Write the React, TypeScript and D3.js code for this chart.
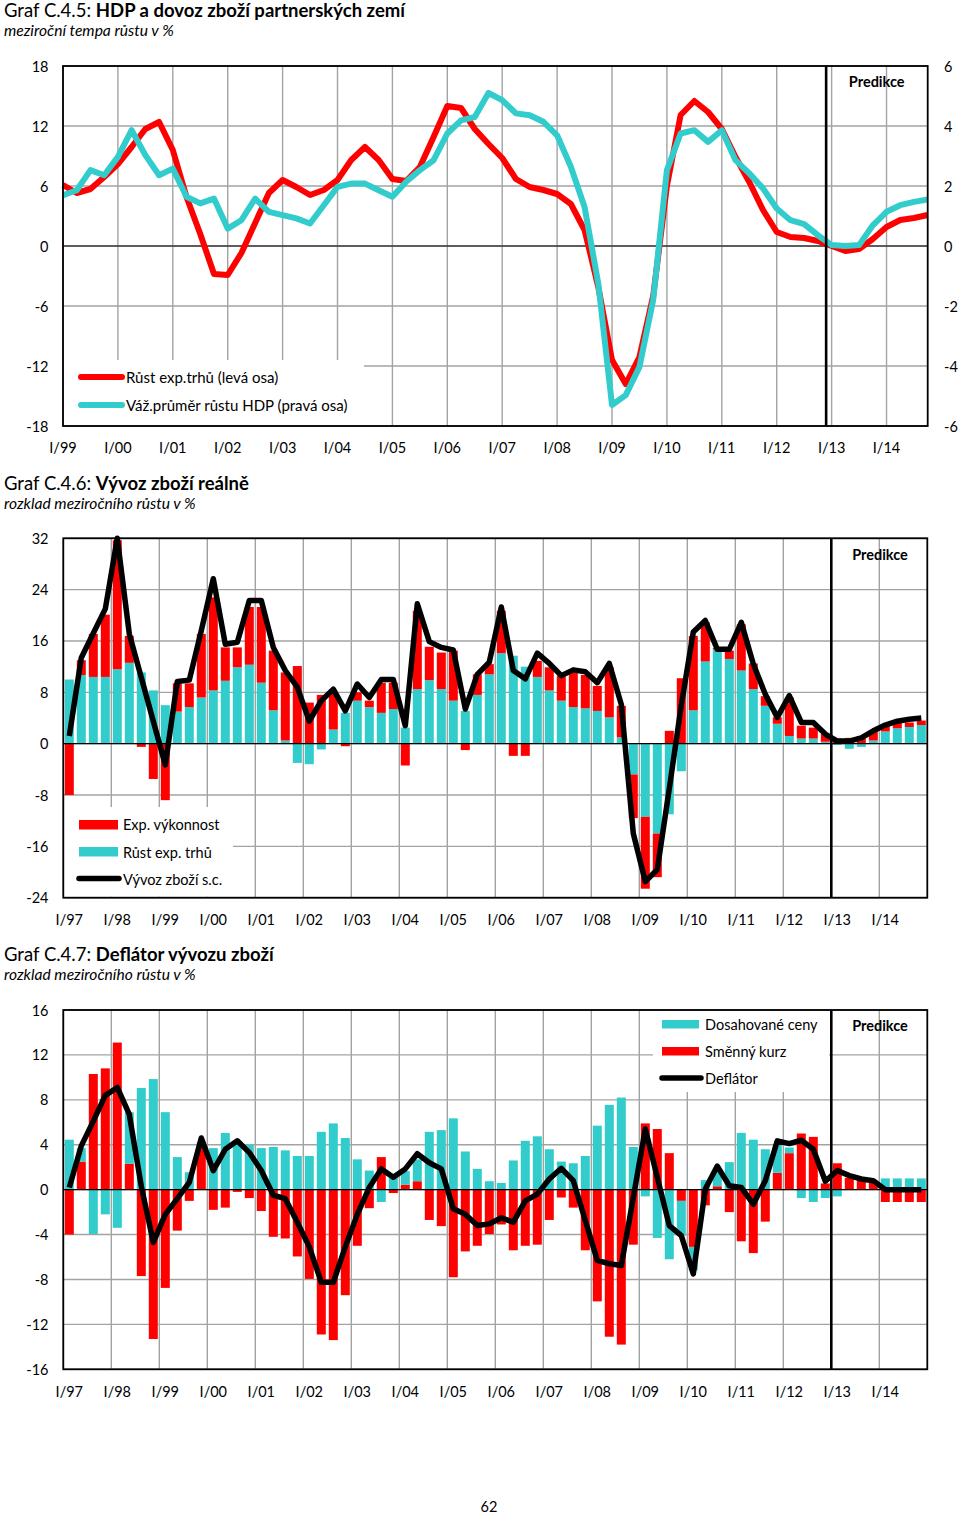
import React from "react";
import * as d3 from "d3";

const FONT = "Lato, 'Open Sans', sans-serif";
const RED = "#ff0000";
const TEAL = "#33cccc";
const GRID = "#a3a3a3";

// ---------- Graf C.4.5 ----------
const quarters99 = d3.range(1999, 2015).flatMap((y) => [1, 2, 3, 4].map((q) => `${y}Q${q}`));
const yearLabels99 = ["I/99", "I/00", "I/01", "I/02", "I/03", "I/04", "I/05", "I/06", "I/07", "I/08", "I/09", "I/10", "I/11", "I/12", "I/13", "I/14"];
const leftTicks1 = [-18, -12, -6, 0, 6, 12, 18];
const rightTicks1 = [-6, -4, -2, 0, 2, 4, 6];
// Růst exp.trhů (levá osa)
const exportMarketGrowth = [
  6.1, 5.3, 5.7, 6.9, 8.2, 9.9, 11.7, 12.4, 9.6, 4.9,
  1.2, -2.8, -2.9, -0.7, 2.3, 5.3, 6.6, 5.9, 5.1, 5.6,
  6.6, 8.6, 9.9, 8.6, 6.7, 6.5, 7.9, 10.9, 14.0, 13.8,
  11.7, 10.2, 8.8, 6.7, 5.9, 5.6, 5.2, 4.2, 1.6, -4.1,
  -11.4, -13.8, -11.1, -5.0, 6.0, 13.1, 14.5, 13.4, 11.7, 8.9,
  6.4, 3.6, 1.4, 0.9, 0.8, 0.5, 0.0, -0.5, -0.3, 0.7,
  1.9, 2.6, 2.8, 3.1,
];
// Váž.průměr růstu HDP (pravá osa)
const weightedGdpGrowth = [
  1.69, 1.86, 2.53, 2.36, 2.97, 3.86, 3.03, 2.36, 2.58, 1.64,
  1.42, 1.58, 0.58, 0.86, 1.58, 1.14, 1.03, 0.92, 0.75, 1.36,
  1.97, 2.08, 2.08, 1.86, 1.64, 2.14, 2.53, 2.86, 3.75, 4.19,
  4.3, 5.1, 4.86, 4.42, 4.36, 4.14, 3.69, 2.64, 1.3, -1.25,
  -5.3, -4.97, -4.03, -1.8, 2.53, 3.75, 3.86, 3.47, 3.86, 2.86,
  2.42, 1.92, 1.25, 0.86, 0.73, 0.36, 0.03, 0.0, 0.03, 0.69,
  1.14, 1.36, 1.47, 1.55,
];

// ---------- Graf C.4.6 / C.4.7 ----------
const quarters97 = d3.range(1997, 2015).flatMap((y) => [1, 2, 3, 4].map((q) => `${y}Q${q}`));
const yearLabels97 = ["I/97", "I/98", "I/99", "I/00", "I/01", "I/02", "I/03", "I/04", "I/05", "I/06", "I/07", "I/08", "I/09", "I/10", "I/11", "I/12", "I/13", "I/14"];
const ticks2 = [-24, -16, -8, 0, 8, 16, 24, 32];
const ticks3 = [-16, -12, -8, -4, 0, 4, 8, 12, 16];

// Růst exp. trhů (contribution)
const marketContrib = [
  10, 10.7, 10.4, 10.4, 11.6, 12.6, 11.1, 8.3, 6.0, 5.0,
  5.7, 7.2, 8.3, 9.8, 11.9, 12.3, 9.5, 5.2, 0.5, -3.0,
  -3.2, -0.9, 2.2, 4.8, 6.7, 5.7, 4.8, 5.4, 2.5, 8.5,
  9.9, 8.5, 6.7, 5.1, 7.6, 10.8, 14.1, 13.7, 12.0, 10.4,
  8.3, 6.7, 5.7, 5.5, 5.1, 4.1, 1.0, -4.8, -11.4, -14.0,
  -11.0, -4.3, 5.2, 12.8, 14.7, 13.2, 11.4, 8.5, 5.9, 3.1,
  1.2, 0.8, 0.8, 0.3, -0.2, -0.8, -0.5, 0.5, 1.9, 2.4,
  2.6, 2.9,
];
// Exp. výkonnost (contribution)
const performanceContrib = [
  -8.0, 2.3, 6.7, 9.7, 20.1, 4.2, -0.5, -5.5, -8.8, 4.4,
  3.7, 9.9, 14.5, 5.2, 3.1, 9.0, 11.8, 9.3, 10.6, 12.1,
  6.4, 7.6, 5.8, -0.4, 1.3, 1.0, 4.7, 4.1, -3.4, 12.2,
  5.2, 5.7, 7.8, -1.0, 3.2, 1.6, 6.6, -1.9, -1.9, 2.5,
  3.6, 3.9, 5.4, 5.2, 3.9, 7.8, 4.9, -6.8, -11.2, -6.8,
  2.0, 10.2, 11.6, 6.1, 0.2, 1.3, 7.2, 4.0, 1.5, 1.0,
  6.0, 2.0, 1.7, 1.2, 0.8, 0.9, 1.2, 1.5, 0.9, 0.9,
  0.7, 0.7,
];
// Vývoz zboží s.c.
const goodsExports = [
  1.2, 13.4, 17.2, 21.0, 32.0, 17.1, 10.3, 3.5, -3.3, 9.7,
  9.9, 17.6, 25.7, 15.5, 15.8, 22.3, 22.3, 15.0, 11.4, 8.8,
  3.5, 6.7, 8.5, 5.1, 9.3, 7.2, 10.0, 10.0, 2.8, 21.8,
  15.9, 15.0, 14.6, 5.4, 10.8, 12.7, 21.3, 11.4, 10.1, 14.1,
  12.5, 10.6, 11.5, 11.2, 9.5, 12.5, 6.1, -14.0, -21.5, -19.6,
  -7.0, 6.0, 17.4, 19.2, 14.7, 14.7, 18.9, 12.4, 7.7, 4.1,
  7.5, 3.3, 3.3, 1.5, 0.4, 0.4, 0.9, 2.0, 2.9, 3.5,
  3.8, 4.0,
];

// Dosahované ceny
const achievedPrices = [
  4.45, 1.2, -3.95, -2.2, -3.4, 4.6, 9.05, 9.85, 6.9, 2.9,
  1.55, 0.4, 3.7, 5.05, 4.05, 4.0, 3.7, 3.8, 3.5, 3.0,
  3.0, 5.15, 5.9, 4.6, 2.7, 1.7, -1.1, 1.25, 1.2, 1.95,
  5.15, 5.3, 6.35, 3.4, 1.85, 0.75, 0.6, 2.6, 4.35, 4.75,
  3.6, 2.5, 2.35, 3.0, 5.7, 7.55, 8.2, 3.8, -0.6, -4.3,
  -6.2, -3.1, -2.1, 0.85, 1.5, 2.45, 5.05, 4.45, 3.6, 2.5,
  0.5, -0.75, -1.1, -0.75, -0.6, 0, 0, 0, 1.0, 1.0,
  1.0, 1.0,
];
// Směnný kurz
const exchangeRate = [
  -4.0, 2.5, 10.3, 10.8, 13.1, 2.3, -7.7, -13.3, -8.75, -3.65,
  -1.0, 3.8, -1.8, -1.6, -0.2, -0.75, -1.9, -4.2, -4.35, -5.95,
  -7.95, -12.9, -13.4, -9.4, -5.0, -1.65, 2.9, -0.3, 0.45, 0.75,
  -2.7, -3.25, -7.8, -5.5, -5.0, -3.95, -3.1, -5.4, -5.0, -4.9,
  -2.7, -0.7, -1.6, -5.4, -9.95, -13.1, -13.8, -4.9, 5.9, 5.4,
  3.25, -1.0, -5.1, -1.4, 0.3, -2.0, -4.6, -5.65, -2.85, 1.5,
  3.25, 5.0, 4.7, 0.55, 2.35, 1.05, 0.8, 0.8, -1.1, -1.1,
  -1.1, -1.1,
];
// Deflátor
const deflator = [
  0.2, 3.9, 6.1, 8.4, 9.1, 6.7, 0.3, -4.7, -2.2, -0.8,
  0.65, 4.6, 1.7, 3.6, 4.35, 3.3, 1.7, -0.5, -0.8, -2.9,
  -5.1, -8.25, -8.25, -5.1, -2.2, 0.2, 1.85, 1.1, 1.85, 3.2,
  2.4, 1.85, -1.7, -2.2, -3.2, -3.05, -2.5, -2.9, -1.0, -0.4,
  0.95, 1.9, 0.8, -2.75, -6.3, -6.6, -6.75, -0.7, 5.4, 1.1,
  -3.2, -4.1, -7.5, 0.05, 2.1, 0.35, 0.2, -1.3, 0.8, 4.35,
  4.1, 4.4, 3.6, 0.75, 1.7, 1.25, 0.95, 0.8, 0, 0,
  0, 0,
];

const tickStyle = { fontFamily: FONT, fontSize: 14.5, fill: "#000" } as const;

function Title({ y, num, bold, sub }: { y: number; num: string; bold: string; sub: string }) {
  return (
    <g>
      <text x={4} y={y} style={{ fontFamily: FONT, fontSize: 18.5 }}>
        <tspan>{num} </tspan>
        <tspan fontWeight="bold">{bold}</tspan>
      </text>
      <text x={4} y={y + 19.5} style={{ fontFamily: FONT, fontSize: 15.6, fontStyle: "italic" }}>
        {sub}
      </text>
    </g>
  );
}

function Chart1() {
  const L = 63, R = 927.7, T = 66, B = 426;
  const x = d3.scalePoint<string>().domain(quarters99).range([L, R]);
  const yL = d3.scaleLinear().domain([-18, 18]).range([B, T]);
  const yR = d3.scaleLinear().domain([-6, 6]).range([B, T]);
  const px = (i: number) => x(quarters99[i]) as number;
  const redPath = d3.line<number>().x((_, i) => px(i)).y((d) => yL(d))(exportMarketGrowth) || "";
  const tealPath = d3.line<number>().x((_, i) => px(i)).y((d) => yR(d))(weightedGdpGrowth) || "";
  const yearQs = quarters99.filter((q) => q.endsWith("Q1"));
  const predX = px(55) + 0.6 * x.step();
  const legendStyle = { ...tickStyle, fontSize: 15 };
  return (
    <g>
      <Title y={16.7} num="Graf C.4.5:" bold="HDP a dovoz zboží partnerských zemí" sub="meziroční tempa růstu v %" />
      {leftTicks1.map((t) => (
        <line key={"h" + t} x1={L} x2={R} y1={yL(t)} y2={yL(t)} stroke={GRID} strokeWidth={1.4} />
      ))}
      {yearQs.map((q) => (
        <line key={"v" + q} x1={x(q)} x2={x(q)} y1={T} y2={B} stroke={GRID} strokeWidth={1.4} />
      ))}
      <line x1={L} x2={R} y1={yL(0)} y2={yL(0)} stroke="#000" strokeWidth={1.2} />
      <rect x={L + 1} y={360} width={300} height={B - 361} fill="#fff" />
      <path d={redPath} fill="none" stroke={RED} strokeWidth={6} strokeLinejoin="round" />
      <path d={tealPath} fill="none" stroke={TEAL} strokeWidth={6} strokeLinejoin="round" />
      <line x1={81} x2={122} y1={377} y2={377} stroke={RED} strokeWidth={6} strokeLinecap="round" />
      <text x={126} y={377} dominantBaseline="central" style={legendStyle}>Růst exp.trhů (levá osa)</text>
      <line x1={81} x2={122} y1={405} y2={405} stroke={TEAL} strokeWidth={6} strokeLinecap="round" />
      <text x={126} y={405} dominantBaseline="central" style={legendStyle}>Váž.průměr růstu HDP (pravá osa)</text>
      <line x1={predX} x2={predX} y1={T} y2={B} stroke="#000" strokeWidth={2.6} />
      <rect x={L} y={T} width={R - L} height={B - T} fill="none" stroke="#000" strokeWidth={1.8} />
      <text x={876.7} y={81} textAnchor="middle" dominantBaseline="central" style={{ ...tickStyle, fontWeight: "bold", fontSize: 14.5 }}>Predikce</text>
      {leftTicks1.map((t) => (
        <text key={"l" + t} x={48.5} y={yL(t)} textAnchor="end" dominantBaseline="central" style={tickStyle}>{t}</text>
      ))}
      {rightTicks1.map((t) => (
        <text key={"r" + t} x={944} y={yR(t)} dominantBaseline="central" style={tickStyle}>{t}</text>
      ))}
      {yearQs.map((q, i) => (
        <text key={"x" + q} x={x(q)} y={452.5} textAnchor="middle" style={tickStyle}>{yearLabels99[i]}</text>
      ))}
    </g>
  );
}

type StackRow = { q: string; [k: string]: number | string };

function BarChart(props: {
  top: number; bottom: number; domain: [number, number]; ticks: number[];
  keys: string[]; colors: string[]; values: number[][]; line: number[];
  titleY: number; num: string; bold: string; sub: string;
  legend: React.ReactNode; predY: number; xLabelY: number;
}) {
  const L = 63.3, R = 927.3;
  const { top: T, bottom: B } = props;
  const x = d3.scaleBand<string>().domain(quarters97).range([L, R]).paddingInner(0.25).paddingOuter(0.125);
  const y = d3.scaleLinear().domain(props.domain).range([B, T]);
  const rows: StackRow[] = quarters97.map((q, i) => {
    const r: StackRow = { q };
    props.keys.forEach((k, j) => (r[k] = props.values[j][i]));
    return r;
  });
  const series = d3.stack<StackRow>().keys(props.keys).value((d, k) => d[k] as number).offset(d3.stackOffsetDiverging)(rows);
  const cx = (i: number) => (x(quarters97[i]) as number) + x.bandwidth() / 2;
  const bound = (i: number) => (x(quarters97[i]) as number) - (x.step() * 0.25) / 2;
  const linePath = d3.line<number>().x((_, i) => cx(i)).y((d) => y(d))(props.line) || "";
  const yearIdx = quarters97.map((q, i) => (q.endsWith("Q1") ? i : -1)).filter((i) => i >= 0);
  const predX = bound(64);
  return (
    <g>
      <Title y={props.titleY} num={props.num} bold={props.bold} sub={props.sub} />
      {props.ticks.map((t) => (
        <line key={"h" + t} x1={L} x2={R} y1={y(t)} y2={y(t)} stroke={GRID} strokeWidth={1.4} />
      ))}
      {yearIdx.map((i) => (
        <line key={"v" + i} x1={bound(i)} x2={bound(i)} y1={T} y2={B} stroke={GRID} strokeWidth={1.4} />
      ))}
      {series.map((s, j) => (
        <g key={s.key} fill={props.colors[j]}>
          {s.map((d, i) => {
            const y0 = y(d[0]), y1 = y(d[1]);
            const h = Math.abs(y0 - y1);
            if (h < 0.01) return null;
            return <rect key={i} x={x(quarters97[i])} width={x.bandwidth()} y={Math.min(y0, y1)} height={h} />;
          })}
        </g>
      ))}
      <line x1={L} x2={R} y1={y(0)} y2={y(0)} stroke="#000" strokeWidth={1.2} />
      <path d={linePath} fill="none" stroke="#000" strokeWidth={5.5} strokeLinejoin="round" />
      {props.legend}
      <line x1={predX} x2={predX} y1={T} y2={B} stroke="#000" strokeWidth={2.6} />
      <rect x={L} y={T} width={R - L} height={B - T} fill="none" stroke="#000" strokeWidth={1.8} />
      <text x={880} y={props.predY} textAnchor="middle" dominantBaseline="central" style={{ ...tickStyle, fontWeight: "bold" }}>Predikce</text>
      {props.ticks.map((t) => (
        <text key={"l" + t} x={48.5} y={y(t)} textAnchor="end" dominantBaseline="central" style={tickStyle}>{t}</text>
      ))}
      {yearIdx.map((i, k) => (
        <text key={"x" + i} x={cx(i)} y={props.xLabelY} textAnchor="middle" style={tickStyle}>{yearLabels97[k]}</text>
      ))}
    </g>
  );
}

function Legend2() {
  return (
    <g>
      <rect x={64} y={807} width={169} height={89.7} fill="#fff" />
      <rect x={79} y={820} width={39} height={9.5} fill={RED} />
      <text x={123} y={824.5} dominantBaseline="central" style={tickStyle}>Exp. výkonnost</text>
      <rect x={79} y={847} width={39} height={9.5} fill={TEAL} />
      <text x={123} y={852} dominantBaseline="central" style={tickStyle}>Růst exp. trhů</text>
      <line x1={79} x2={119} y1={878.5} y2={878.5} stroke="#000" strokeWidth={5.5} strokeLinecap="round" />
      <text x={123} y={879} dominantBaseline="central" style={tickStyle}>Vývoz zboží s.c.</text>
    </g>
  );
}

function Legend3() {
  return (
    <g>
      <rect x={653} y={1011} width={176} height={81} fill="#fff" />
      <rect x={662} y={1020} width={37} height={8.5} fill={TEAL} />
      <text x={705} y={1024.5} dominantBaseline="central" style={tickStyle}>Dosahované ceny</text>
      <rect x={662} y={1047} width={37} height={8.5} fill={RED} />
      <text x={705} y={1051} dominantBaseline="central" style={tickStyle}>Směnný kurz</text>
      <line x1={662} x2={701} y1={1078} y2={1078} stroke="#000" strokeWidth={5.5} strokeLinecap="round" />
      <text x={705} y={1078} dominantBaseline="central" style={tickStyle}>Deflátor</text>
    </g>
  );
}

export default function App() {
  return (
    <svg width={960} height={1515} viewBox="0 0 960 1515" style={{ position: "absolute", left: 0, top: 0, background: "#fff" }}>
      <rect x={0} y={0} width={960} height={1515} fill="#fff" />
      <Chart1 />
      <BarChart
        top={538.3} bottom={897.7} domain={[-24, 32]} ticks={ticks2}
        keys={["market", "performance"]} colors={[TEAL, RED]}
        values={[marketContrib, performanceContrib]} line={goodsExports}
        titleY={489.5} num="Graf C.4.6:" bold="Vývoz zboží reálně" sub="rozklad meziročního růstu v %"
        legend={<Legend2 />} predY={554} xLabelY={925}
      />
      <BarChart
        top={1010} bottom={1369.3} domain={[-16, 16]} ticks={ticks3}
        keys={["fx", "prices"]} colors={[RED, TEAL]}
        values={[exchangeRate, achievedPrices]} line={deflator}
        titleY={960.5} num="Graf C.4.7:" bold="Deflátor vývozu zboží" sub="rozklad meziročního růstu v %"
        legend={<Legend3 />} predY={1025} xLabelY={1396.5}
      />
      <text x={489} y={1512} textAnchor="middle" style={tickStyle}>62</text>
    </svg>
  );
}
